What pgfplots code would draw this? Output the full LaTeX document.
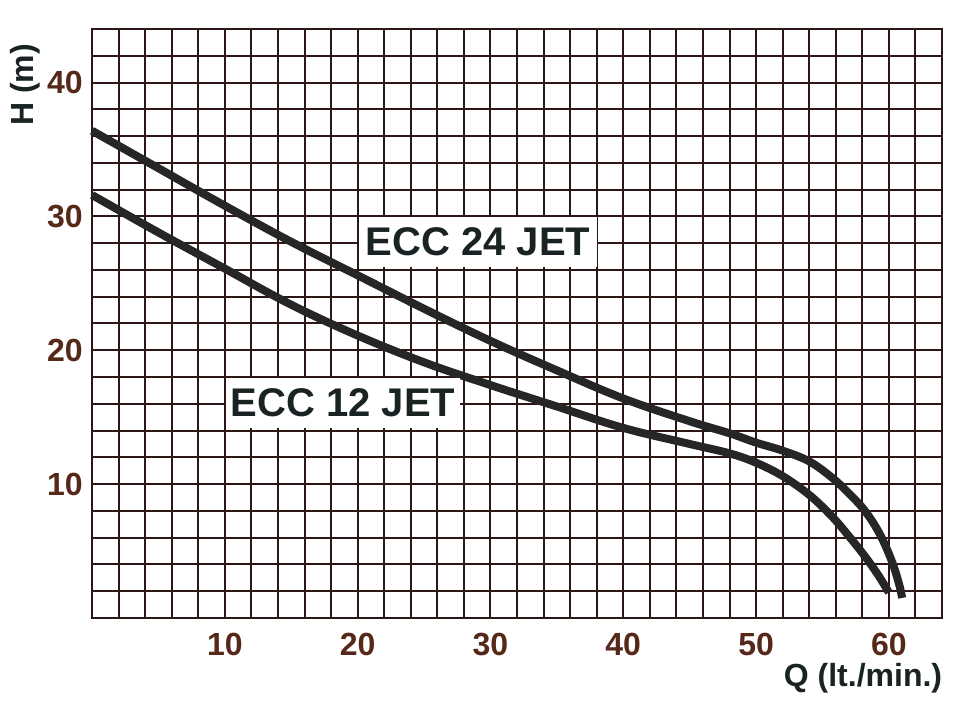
\documentclass[border=0pt]{standalone}
\usepackage{fontspec}
\setmainfont{Liberation Sans}
\usepackage{pgfplots}
\pgfplotsset{compat=1.18}
\definecolor{gridc}{RGB}{45,22,22}
\definecolor{tickc}{RGB}{85,40,25}
\definecolor{curvec}{RGB}{38,38,38}
\definecolor{labc}{RGB}{25,35,35}
\begin{document}
\begin{tikzpicture}
\useasboundingbox (0,0) rectangle (480pt,360.5pt);
\begin{axis}[
 at={(46pt,51.5pt)}, anchor=south west,
 scale only axis, width=425pt, height=294.5pt,
 xmin=0,xmax=64,ymin=0,ymax=44,
 xtick={10,20,...,60}, ytick={10,20,30,40},
 minor xtick={2,4,...,62}, minor ytick={2,4,...,42},
 grid=both,
 major grid style={draw=gridc, line width=1pt},
 minor grid style={draw=gridc, line width=1pt},
 major tick length=0pt, minor tick length=0pt,
 axis line style={draw=gridc, line width=1pt},
 /pgf/number format/assume math mode=true,
 tick label style={font=\fontsize{16}{16}\selectfont\bfseries, text=tickc},
 xticklabel style={anchor=center, inner sep=0pt, yshift=-13.25pt},
 yticklabel style={anchor=east, inner sep=0pt, xshift=-4.5pt},
 clip=false,
]
\addplot[curvec, line width=4pt, smooth, tension=0.6] coordinates {
(0,36.4) (5,33.6) (10,30.8) (15,28.1) (20,25.6) (25,23.1) (30,20.7) (35,18.5)
(40,16.4) (45,14.7) (48,13.8) (50,13.1) (52,12.5) (54,11.7) (55.7,10.5)
(57,9.3) (58.2,8.0) (59.3,6.3) (60.2,4.3) (60.75,2.6) (61,1.5)
};
\addplot[curvec, line width=4pt, smooth, tension=0.6] coordinates {
(0,31.6) (5,28.8) (10,26.1) (15,23.4) (20,21.1) (25,19.1) (30,17.4) (35,15.8)
(40,14.2) (45,13.0) (48,12.3) (50,11.6) (52,10.6) (54,9.2) (55.7,7.6)
(57,6.1) (58.2,4.6) (59.2,3.2) (60,1.9)
};
\node[fill=white, minimum width=119pt, minimum height=25pt, inner sep=0pt,
  font=\fontsize{20}{20}\selectfont\bfseries, text=labc] at (axis cs:29.07,28.1) {ECC 24 JET};
\node[fill=white, minimum width=117pt, minimum height=25pt, inner sep=0pt,
  font=\fontsize{20}{20}\selectfont\bfseries, text=labc] at (axis cs:18.9,16.05) {ECC 12 JET};
\end{axis}
\node[rotate=90, font=\fontsize{16}{16}\selectfont\bfseries, text=labc] at (12.5pt,318pt) {H (m)};
\node[inner sep=0pt, font=\fontsize{16}{16}\selectfont\bfseries, text=labc] at (431.5pt,21.5pt) {Q (lt./min.)};
\end{tikzpicture}
\end{document}
